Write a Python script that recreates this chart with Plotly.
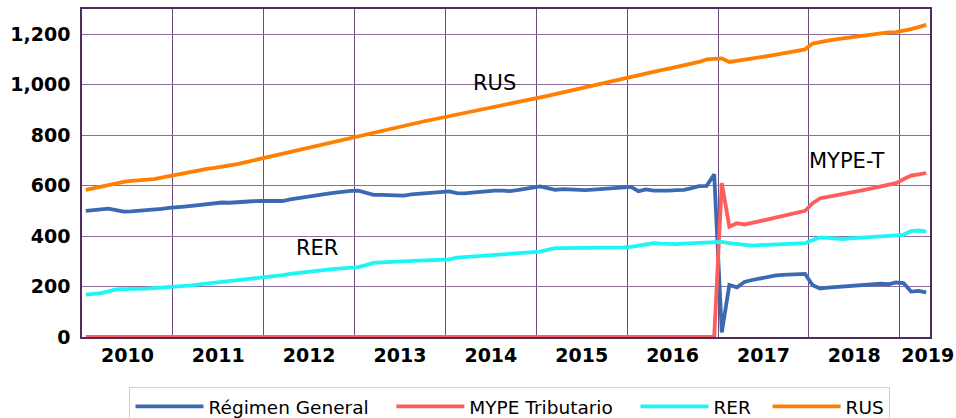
import plotly.graph_objects as go

years = [2010, 2011, 2012, 2013, 2014, 2015, 2016, 2017, 2018, 2019]
months_per_year = [12, 12, 12, 12, 12, 12, 12, 12, 12, 4]
month_labels = [f"{y}-{m:02d}" for y, n in zip(years, months_per_year) for m in range(1, n + 1)]

rus = [
    583, 590, 597, 603, 609, 615, 619, 621, 621, 626, 632, 638,
    645, 650, 656, 661, 666, 670, 674, 679, 685, 692, 699, 705,
    712, 719, 726, 733, 740, 747, 755, 762, 770, 777, 784, 790,
    797, 803, 809, 816, 823, 830, 837, 843, 850, 857, 863, 869,
    876, 882, 888, 894, 900, 906, 912, 918, 923, 929, 935, 941,
    949, 956, 963, 970, 977, 984, 991, 998, 1005, 1012, 1019, 1026,
    1033, 1040, 1046, 1052, 1058, 1064, 1070, 1076, 1083, 1090, 1100, 1103,
    1104, 1090, 1094, 1098, 1103, 1108, 1113, 1118, 1123, 1128, 1133, 1140,
    1163, 1170, 1175, 1180, 1184, 1188, 1192, 1196, 1199, 1203, 1207, 1208,
    1213, 1220, 1228, 1237,
]

regimen_general = [
    500, 502, 507, 509, 503, 497, 498, 500, 502, 504, 508, 512,
    516, 517, 520, 524, 527, 530, 533, 532, 535, 537, 538, 539,
    540, 540, 539, 545, 550, 556, 559, 563, 568, 572, 576, 579,
    580, 570, 563, 563, 561, 559, 560, 565, 568, 570, 573, 577,
    577, 570, 569, 572, 575, 577, 580, 580, 578, 582, 588, 592,
    597, 590, 583, 586, 584, 582, 582, 584, 586, 588, 590, 593,
    595, 578, 585, 580, 579, 580, 582, 583, 590, 598, 599, 645,
    18, 206, 197, 218, 226, 232, 238, 243, 246, 248, 249, 250,
    205, 192, 196, 198, 200, 201, 203, 205, 207, 211, 209, 216,
    214, 180, 183, 177,
]

rer = [
    168, 170, 174, 181, 189, 190, 190, 191, 192, 194, 196, 198,
    199, 202, 205, 209, 212, 216, 220, 223, 226, 229, 233, 236,
    238, 240, 245, 250, 254, 257, 260, 263, 267, 270, 273, 275,
    277, 285, 294, 296, 298, 300, 301, 302, 303, 304, 305, 306,
    308, 315, 317, 319, 321, 323, 325, 327, 329, 331, 333, 335,
    338, 345, 352, 352, 352, 353, 353, 354, 354, 355, 355, 355,
    357, 362, 368, 372, 370, 368, 368, 370, 372, 372, 373, 377,
    377, 372, 368, 363, 362, 364, 365, 366, 366, 367, 368, 372,
    384, 395, 393, 389, 388, 391, 393, 395, 397, 398, 399, 401,
    405, 420, 422, 418,
]

mype_t = [0] * 84 + [
    610, 437, 451, 446, 452, 459, 466, 473, 480, 487, 493, 500,
    530, 550, 555, 560, 566, 572, 578, 584, 590, 596, 602, 610,
    625, 640, 645, 650,
]

series = [
    ("Régimen General", regimen_general, "#3b69b2"),
    ("MYPE Tributario", mype_t, "#ff5c5c"),
    ("RER", rer, "#1ef5f5"),
    ("RUS", rus, "#ff8000"),
]

x = list(range(len(month_labels)))
NBSP = "\u00a0"

fig = go.Figure()
for i, (name, vals, color) in enumerate(series):
    pad = NBSP * 3 if i < 2 else (NBSP * 2 if i == 2 else "")
    fig.add_trace(go.Scatter(
        x=x, y=vals, name=name + pad, mode="lines",
        line=dict(color=color, width=3.8),
        customdata=month_labels,
        hovertemplate="%{customdata}: %{y}<extra>" + name + "</extra>",
    ))

starts = [sum(months_per_year[:i]) for i in range(len(years))]
label_pos = [s + (n - 1) / 2 for s, n in zip(starts, months_per_year[:-1])] + [len(x) - 0.8]
boundaries = [s - 0.5 for s in starts[1:]]

xgrid_col = "#6b4c7c"
ygrid_col = "#8a7098"
axis_col = "#4e2d5e"

fig.update_layout(
    width=956, height=418,
    margin=dict(l=82, r=26, t=9, b=81, autoexpand=False),
    paper_bgcolor="white", plot_bgcolor="white",
    font=dict(family="DejaVu Sans", color="black"),
    showlegend=True,
    legend=dict(
        orientation="h", x=0.056, xanchor="left", y=-0.152, yanchor="top",
        bordercolor="#d0d0d0", borderwidth=1,
        font=dict(family="DejaVu Sans", size=18.5, color="black"),
        itemwidth=68,
    ),
    xaxis=dict(
        range=[-0.5, len(x) - 0.5], automargin=False,
        tickmode="array", tickvals=label_pos, ticktext=[str(y) for y in years],
        showgrid=False, ticks="", ticklabelstandoff=0,
        tickfont=dict(family="DejaVu Sans", size=19, color="black", weight="bold"),
        showline=True, linecolor=axis_col, linewidth=1.5, mirror=True,
        zeroline=False,
        minor=dict(tickmode="array", tickvals=boundaries, showgrid=True,
                   gridcolor=xgrid_col, gridwidth=1, ticks=""),
    ),
    yaxis=dict(
        range=[0, 1300], automargin=False,
        tickmode="array", tickvals=[0, 200, 400, 600, 800, 1000, 1200],
        tickformat=",d", showgrid=True, gridcolor=ygrid_col, gridwidth=1,
        ticks="", ticklabelstandoff=6,
        tickfont=dict(family="DejaVu Sans", size=19, color="black", weight="bold"),
        showline=True, linecolor=axis_col, linewidth=1.5, mirror=True,
        zeroline=False,
    ),
    annotations=[
        dict(x=54, y=1007, xref="x", yref="y", text="RUS", showarrow=False,
             font=dict(family="DejaVu Sans", size=21, color="black")),
        dict(x=30.5, y=352, xref="x", yref="y", text="RER", showarrow=False,
             font=dict(family="DejaVu Sans", size=21, color="black")),
        dict(x=100.5, y=698, xref="x", yref="y", text="MYPE-T", showarrow=False,
             font=dict(family="DejaVu Sans", size=21, color="black")),
    ],
)

fig.write_html(
    "out.html",
    config={"displayModeBar": False},
    post_script="document.body.style.margin='0px';document.body.style.overflow='hidden';",
)
